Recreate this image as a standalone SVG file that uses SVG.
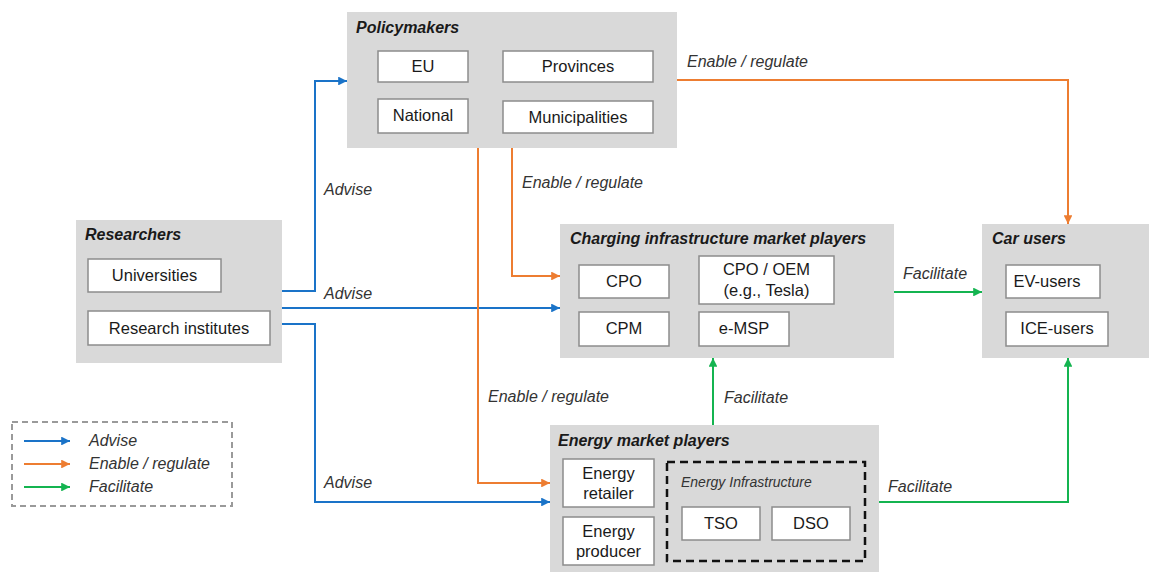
<svg xmlns="http://www.w3.org/2000/svg" width="1149" height="572" viewBox="0 0 1149 572">
  <style>
    .group { fill: #d9d9d9; stroke: none; }
    .item { fill: #ffffff; stroke: #8c8c8c; stroke-width: 1.5; }
    .title { font-family: "Liberation Sans", Arial, sans-serif; font-size: 16px; font-weight: bold; font-style: italic; fill: #1a1a1a; }
    .txt { font-family: "Liberation Sans", Arial, sans-serif; font-size: 16.5px; fill: #1a1a1a; text-anchor: middle; }
    .lbl { font-family: "Liberation Sans", Arial, sans-serif; font-size: 16px; font-style: italic; fill: #333333; }
    .sub { font-family: "Liberation Sans", Arial, sans-serif; font-size: 14px; font-style: italic; fill: #333333; }
    .adv { fill: none; stroke: #1a73c8; stroke-width: 2; marker-end: url(#ahBlue); }
    .reg { fill: none; stroke: #ed7d31; stroke-width: 2; marker-end: url(#ahOrange); }
    .fac { fill: none; stroke: #14b450; stroke-width: 2; marker-end: url(#ahGreen); }
  </style>
  <defs>
    <marker id="ahBlue" viewBox="0 0 10 10" refX="10" refY="5" markerWidth="5" markerHeight="4.4" orient="auto" markerUnits="strokeWidth">
      <path d="M0,0 L10,5 L0,10 z" fill="#1a73c8"/>
    </marker>
    <marker id="ahOrange" viewBox="0 0 10 10" refX="10" refY="5" markerWidth="5" markerHeight="4.4" orient="auto" markerUnits="strokeWidth">
      <path d="M0,0 L10,5 L0,10 z" fill="#ed7d31"/>
    </marker>
    <marker id="ahGreen" viewBox="0 0 10 10" refX="10" refY="5" markerWidth="5" markerHeight="4.4" orient="auto" markerUnits="strokeWidth">
      <path d="M0,0 L10,5 L0,10 z" fill="#14b450"/>
    </marker>
  </defs>

  <rect width="1149" height="572" fill="#ffffff"/>

  <!-- Policymakers -->
  <g id="policymakers">
    <rect class="group" x="347" y="12" width="330" height="136"/>
    <text class="title" x="356" y="33">Policymakers</text>
    <rect class="item" x="378" y="51" width="90" height="31"/>
    <text class="txt" x="423" y="72">EU</text>
    <rect class="item" x="503" y="51" width="150" height="31"/>
    <text class="txt" x="578" y="72">Provinces</text>
    <rect class="item" x="378" y="99" width="90" height="34"/>
    <text class="txt" x="423" y="121">National</text>
    <rect class="item" x="503" y="101" width="150" height="32"/>
    <text class="txt" x="578" y="123">Municipalities</text>
  </g>

  <!-- Researchers -->
  <g id="researchers">
    <rect class="group" x="76" y="220" width="206" height="143"/>
    <text class="title" x="85" y="240">Researchers</text>
    <rect class="item" x="88" y="259" width="133" height="33"/>
    <text class="txt" x="154.5" y="281">Universities</text>
    <rect class="item" x="88" y="311" width="182" height="34"/>
    <text class="txt" x="179" y="334">Research institutes</text>
  </g>

  <!-- Charging infrastructure market players -->
  <g id="charging">
    <rect class="group" x="560" y="224" width="334" height="134"/>
    <text class="title" x="570" y="244">Charging infrastructure market players</text>
    <rect class="item" x="579" y="265" width="90" height="33"/>
    <text class="txt" x="624" y="287">CPO</text>
    <rect class="item" x="699" y="256" width="135" height="48"/>
    <text class="txt" x="766.5" y="275">CPO / OEM</text>
    <text class="txt" x="766.5" y="296">(e.g., Tesla)</text>
    <rect class="item" x="579" y="312" width="90" height="34"/>
    <text class="txt" x="624" y="334">CPM</text>
    <rect class="item" x="699" y="312" width="90" height="34"/>
    <text class="txt" x="744" y="334">e-MSP</text>
  </g>

  <!-- Car users -->
  <g id="car-users">
    <rect class="group" x="982" y="224" width="167" height="134"/>
    <text class="title" x="992" y="244">Car users</text>
    <rect class="item" x="1006" y="265" width="94" height="33"/>
    <text class="txt" x="1047" y="287">EV-users</text>
    <rect class="item" x="1006" y="312" width="102" height="34"/>
    <text class="txt" x="1057" y="334">ICE-users</text>
  </g>

  <!-- Energy market players -->
  <g id="energy">
    <rect class="group" x="550" y="425" width="329" height="147"/>
    <text class="title" x="558" y="446">Energy market players</text>
    <rect class="item" x="563" y="459" width="91" height="48"/>
    <text class="txt" x="608.5" y="479">Energy</text>
    <text class="txt" x="608.5" y="499">retailer</text>
    <rect class="item" x="563" y="517" width="91" height="48"/>
    <text class="txt" x="608.5" y="537">Energy</text>
    <text class="txt" x="608.5" y="557">producer</text>
    <g id="energy-infrastructure">
      <rect x="667" y="462" width="198" height="99" fill="none" stroke="#111111" stroke-width="2.5" stroke-dasharray="8 5"/>
      <text class="sub" x="681" y="487">Energy Infrastructure</text>
      <rect class="item" x="682" y="507" width="78" height="33"/>
      <text class="txt" x="721" y="529">TSO</text>
      <rect class="item" x="772" y="507" width="78" height="33"/>
      <text class="txt" x="811" y="529">DSO</text>
    </g>
  </g>

  <!-- Connectors -->
  <g id="connectors">
    <!-- Advise -->
    <path class="adv" d="M282,291 H315 V81 H347"/>
    <path class="adv" d="M282,308 H560"/>
    <path class="adv" d="M282,324 H315 V502 H550"/>
    <!-- Enable / regulate -->
    <path class="reg" d="M677,80 H1068 V224"/>
    <path class="reg" d="M512,148 V276 H560"/>
    <path class="reg" d="M478,148 V483 H550"/>
    <!-- Facilitate -->
    <path class="fac" d="M894,292 H982"/>
    <path class="fac" d="M713,425 V358"/>
    <path class="fac" d="M879,502 H1068 V358"/>
  </g>

  <!-- Connector labels -->
  <g id="connector-labels">
    <text class="lbl" x="324" y="195">Advise</text>
    <text class="lbl" x="324" y="299">Advise</text>
    <text class="lbl" x="324" y="488">Advise</text>
    <text class="lbl" x="687" y="67">Enable / regulate</text>
    <text class="lbl" x="522" y="188">Enable / regulate</text>
    <text class="lbl" x="488" y="402">Enable / regulate</text>
    <text class="lbl" x="903" y="279">Facilitate</text>
    <text class="lbl" x="724" y="403">Facilitate</text>
    <text class="lbl" x="888" y="492">Facilitate</text>
  </g>

  <!-- Legend -->
  <g id="legend">
    <rect x="12" y="422" width="220" height="84" fill="none" stroke="#9a9a9a" stroke-width="2" stroke-dasharray="6 4"/>
    <path class="adv" d="M24,441 H70"/>
    <text class="lbl" x="89" y="446">Advise</text>
    <path class="reg" d="M24,464 H70"/>
    <text class="lbl" x="89" y="469">Enable / regulate</text>
    <path class="fac" d="M24,487 H70"/>
    <text class="lbl" x="89" y="492">Facilitate</text>
  </g>
</svg>
